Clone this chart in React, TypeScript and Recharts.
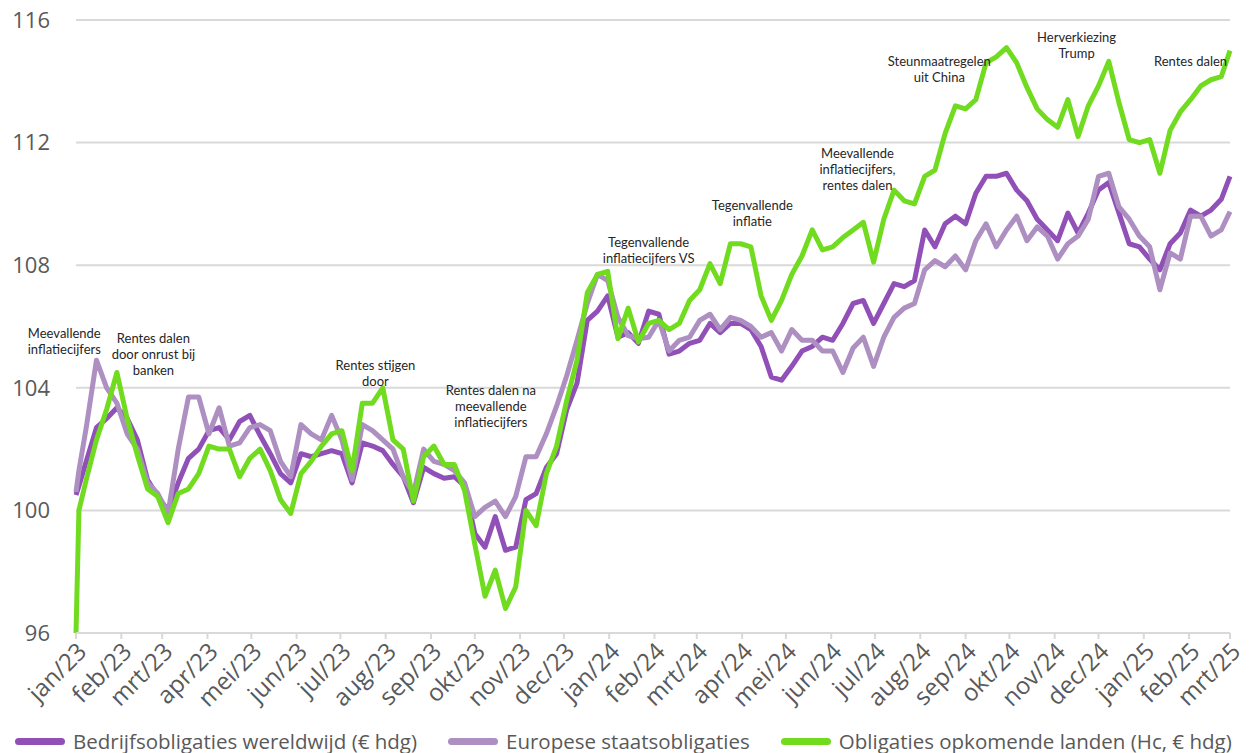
import React from 'react';
import { LineChart, Line, XAxis, YAxis, CartesianGrid, Legend, ReferenceDot } from 'recharts';

// maandlabels op de x-as (dagnummer vanaf 1 jan 2023)
const monthLabels = [
  'jan/23', 'feb/23', 'mrt/23', 'apr/23', 'mei/23', 'jun/23', 'jul/23', 'aug/23', 'sep/23',
  'okt/23', 'nov/23', 'dec/23', 'jan/24', 'feb/24', 'mrt/24', 'apr/24', 'mei/24', 'jun/24',
  'jul/24', 'aug/24', 'sep/24', 'okt/24', 'nov/24', 'dec/24', 'jan/25', 'feb/25', 'mrt/25',
];
const monthDays = [
  0, 31, 59, 90, 120, 151, 181, 212, 243, 273, 304, 334, 365, 396, 425, 456, 486, 517, 547,
  578, 609, 639, 670, 700, 731, 762, 790,
];

// wekelijkse waarnemingen
const days = [0, 2, ...Array.from({ length: 112 }, (_, i) => (i + 1) * 7), 790];

const bedrijf = [
  100.5, 100.8,
  101.6, 102.7, 103.0, 103.35, 103.0, 102.3, 101.0, 100.45, 100.0, 100.9,
  101.7, 102.0, 102.6, 102.7, 102.3, 102.9, 103.1, 102.45, 101.85, 101.2,
  100.9, 101.85, 101.75, 101.85, 101.95, 101.85, 100.9, 102.2, 102.1, 101.95,
  101.5, 101.1, 100.25, 101.4, 101.2, 101.05, 101.1, 100.8, 99.25, 98.8,
  99.8, 98.7, 98.8, 100.35, 100.55, 101.4, 101.85, 103.3, 104.15, 106.2,
  106.5, 107.0, 105.65, 105.8, 105.45, 106.5, 106.4, 105.1, 105.2, 105.45,
  105.55, 106.1, 105.8, 106.1, 106.1, 105.9, 105.35, 104.35, 104.25, 104.7,
  105.2, 105.35, 105.65, 105.55, 106.1, 106.75, 106.85, 106.1, 106.75, 107.4,
  107.3, 107.5, 109.15, 108.6, 109.35, 109.6, 109.35, 110.35, 110.9, 110.9,
  111.0, 110.45, 110.1, 109.5, 109.15, 108.8, 109.7, 109.05, 109.7, 110.45,
  110.7, 109.7, 108.7, 108.6, 108.2, 107.85, 108.7, 109.05, 109.8, 109.6,
  109.8, 110.15,
  110.9,
];

const europees = [
  100.6, 101.3,
  102.7, 104.9, 104.0, 103.5, 102.5, 102.0, 100.9, 100.55, 99.9, 102.0,
  103.7, 103.7, 102.5, 103.35, 102.1, 102.2, 102.7, 102.8, 102.6, 101.6,
  101.1, 102.8, 102.5, 102.3, 103.1, 102.3, 101.0, 102.8, 102.6, 102.3,
  102.0, 101.1, 100.55, 102.0, 101.6, 101.5, 101.3, 100.9, 99.8, 100.1,
  100.3, 99.8, 100.45, 101.75, 101.75, 102.5, 103.4, 104.4, 105.55, 106.75,
  107.7, 107.5, 106.3, 105.7, 105.6, 105.65, 106.2, 105.2, 105.55, 105.65,
  106.2, 106.4, 105.9, 106.3, 106.2, 106.0, 105.65, 105.8, 105.2, 105.9,
  105.55, 105.55, 105.2, 105.2, 104.5, 105.3, 105.65, 104.7, 105.65, 106.3,
  106.6, 106.75, 107.85, 108.15, 107.95, 108.3, 107.85, 108.8, 109.35, 108.6,
  109.15, 109.6, 108.8, 109.25, 108.95, 108.2, 108.7, 108.95, 109.5, 110.9,
  111.0, 109.9, 109.5, 108.95, 108.6, 107.2, 108.4, 108.2, 109.6, 109.6,
  108.95, 109.15,
  109.75,
];

const opkomend = [
  96.0, 100.0,
  101.0, 102.3, 103.3, 104.5, 103.0, 101.8, 100.7, 100.45, 99.6, 100.55,
  100.7, 101.2, 102.1, 102.0, 102.0, 101.1, 101.7, 102.0, 101.3, 100.35,
  99.9, 101.2, 101.6, 102.1, 102.5, 102.6, 101.3, 103.5, 103.5, 104.0,
  102.3, 102.0, 100.3, 101.75, 102.1, 101.5, 101.5, 100.65, 98.9, 97.2,
  98.05, 96.8, 97.5, 100.0, 99.5, 101.2, 102.1, 103.6, 104.9, 107.1,
  107.7, 107.8, 105.6, 106.6, 105.5, 106.1, 106.2, 105.9, 106.1, 106.85,
  107.2, 108.05, 107.4, 108.7, 108.7, 108.6, 107.0, 106.2, 106.85, 107.7,
  108.3, 109.15, 108.5, 108.6, 108.9, 109.15, 109.4, 108.1, 109.5, 110.45,
  110.1, 110.0, 110.9, 111.1, 112.3, 113.2, 113.1, 113.4, 114.6, 114.8,
  115.1, 114.6, 113.8, 113.1, 112.75, 112.5, 113.4, 112.2, 113.2, 113.85,
  114.65, 113.3, 112.1, 112.0, 112.1, 111.0, 112.4, 113.0, 113.4, 113.85,
  114.05, 114.15,
  115.0,
];

const yTicks = [96, 100, 104, 108, 112, 116];

// gebeurtenissen, verankerd op (dag, waarde) van de eerste regel
const annotations = [
  { day: -8, value: 105.8, lines: ['Meevallende', 'inflatiecijfers'] },
  { day: 53, value: 105.62, lines: ['Rentes dalen', 'door onrust bij', 'banken'] },
  { day: 205, value: 104.74, lines: ['Rentes stijgen', 'door'] },
  { day: 284, value: 103.93, lines: ['Rentes dalen na', 'meevallende', 'inflatiecijfers'] },
  { day: 392, value: 108.76, lines: ['Tegenvallende', 'inflatiecijfers VS'] },
  { day: 463, value: 109.96, lines: ['Tegenvallende', 'inflatie'] },
  { day: 535, value: 111.66, lines: ['Meevallende', 'inflatiecijfers,', 'rentes dalen'] },
  { day: 591, value: 114.66, lines: ['Steunmaatregelen', 'uit China'] },
  { day: 685, value: 115.45, lines: ['Herverkiezing', 'Trump'] },
  { day: 763, value: 114.66, lines: ['Rentes dalen'] },
];

const series = [
  { key: 'bedrijf', name: 'Bedrijfsobligaties wereldwijd (€ hdg)', color: '#9150B7' },
  { key: 'europees', name: 'Europese staatsobligaties', color: '#AD8FC1' },
  { key: 'opkomend', name: 'Obligaties opkomende landen (Hc, € hdg)', color: '#70DB1F' },
];

const data = days.map((day, i) => ({
  day,
  bedrijf: bedrijf[i],
  europees: europees[i],
  opkomend: opkomend[i],
}));

const renderLegend = () => (
  <div style={{ display: 'flex', alignItems: 'center', height: 24, paddingLeft: 15, fontFamily: 'Open Sans', fontSize: 20.5, color: '#595959', whiteSpace: 'nowrap' }}>
    {series.map((s) => (
      <div key={s.key} style={{ display: 'flex', alignItems: 'center', marginRight: 31 }}>
        <span style={{ display: 'inline-block', width: 50, height: 7, borderRadius: 4, background: s.color, marginRight: 8 }} />
        <span>{s.name}</span>
      </div>
    ))}
  </div>
);

export default function App() {
  return (
    <div style={{ position: 'absolute', left: 0, top: 0, background: '#fff' }}>
      <LineChart width={1253} height={753} data={data} margin={{ top: 20, right: 23, left: 0, bottom: 0 }}>
        <CartesianGrid vertical={false} stroke="#D9D9D9" strokeWidth={2} />
        <XAxis
          dataKey="day"
          type="number"
          domain={[0, 790]}
          ticks={monthDays}
          interval={0}
          tickFormatter={(d: number) => monthLabels[monthDays.indexOf(d)]}
          angle={-45}
          textAnchor="end"
          height={96}
          stroke="#D9D9D9"
          strokeWidth={2}
          tickSize={6}
          tickMargin={2}
          tick={{ fill: '#595959', fontSize: 24, fontFamily: 'Open Sans' }}
        />
        <YAxis
          domain={[96, 116]}
          ticks={yTicks}
          width={76}
          axisLine={false}
          tickLine={false}
          tickMargin={20}
          tick={{ fill: '#595959', fontSize: 22, fontFamily: 'Open Sans' }}
        />
        <Legend verticalAlign="bottom" align="left" content={renderLegend} />
        {series.map((s) => (
          <Line
            key={s.key}
            type="linear"
            dataKey={s.key}
            name={s.name}
            stroke={s.color}
            strokeWidth={5}
            strokeLinejoin="round"
            dot={false}
            isAnimationActive={false}
          />
        ))}
        {annotations.map((a, i) => (
          <ReferenceDot
            key={i}
            x={a.day}
            y={a.value}
            ifOverflow="visible"
            shape={(p: any) => (
              <text x={p.cx} y={p.cy} textAnchor="middle" fontFamily="Lato" fontSize={13} fill="#262626">
                {a.lines.map((l, j) => (
                  <tspan key={j} x={p.cx} y={p.cy + j * 16} dominantBaseline="central">
                    {l}
                  </tspan>
                ))}
              </text>
            )}
          />
        ))}
      </LineChart>
    </div>
  );
}
